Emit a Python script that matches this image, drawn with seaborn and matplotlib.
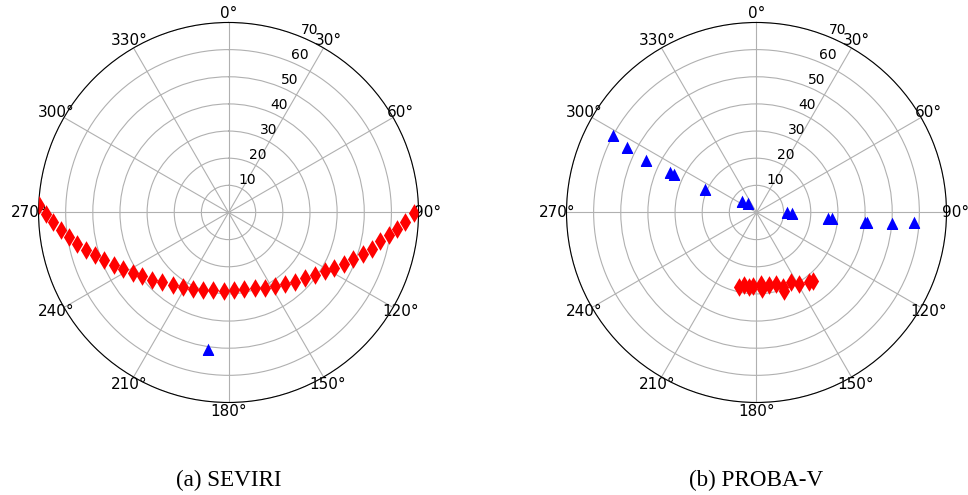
import numpy as np
import pandas as pd
import seaborn as sns
import matplotlib.pyplot as plt

# SEVIRI: azimuth (deg) and zenith (deg)
seviri_red_az = [272.4, 269.6, 266.8, 264.1, 261.2, 258.2, 255.3, 252.5, 249.1, 245.5,
                 241.6, 237.7, 233.6, 228.6, 223.5, 217.6, 211.6, 205.2, 198.5, 191.0,
                 183.4, 176.3, 168.3, 161.0, 154.3, 147.8, 141.6, 136.1, 130.8, 125.9,
                 121.4, 117.9, 113.9, 110.4, 107.2, 104.3, 100.8, 98.0, 95.6, 93.2, 90.1]
seviri_red_zen = [69.8, 67.3, 64.9, 62.2, 59.6, 56.9, 54.3, 51.7, 49.0, 46.5,
                  44.1, 41.6, 39.5, 37.4, 35.4, 33.8, 32.3, 31.0, 30.0, 29.2,
                  28.9, 28.5, 28.7, 29.5, 30.7, 32.0, 33.4, 35.3, 37.2, 39.3,
                  41.7, 44.1, 46.6, 49.1, 51.7, 54.4, 56.9, 59.6, 62.3, 65.2, 68.3]
seviri_blue_az = [188.4]
seviri_blue_zen = [50.9]

# PROBA-V
proba_blue_az = [298.4, 296.8, 295.3, 294.9, 295.0, 294.8, 307.8, 318.0,
                 88.5, 90.3, 94.7, 94.4, 94.9, 94.8, 94.6, 93.4]
proba_blue_zen = [60.3, 53.5, 45.0, 35.3, 33.7, 21.0, 6.9, 4.9,
                  11.2, 13.0, 26.3, 27.9, 40.0, 41.0, 50.2, 58.0]
proba_red_az = [193.1, 189.8, 185.5, 182.5, 176.6, 175.9, 170.4, 164.6,
                160.1, 160.7, 153.5, 149.2, 143.2, 140.5]
proba_red_zen = [28.2, 27.3, 27.6, 27.2, 26.5, 28.1, 27.2, 27.2,
                 29.2, 30.8, 28.6, 30.5, 32.0, 32.7]

captions = ["(a) SEVIRI", "(b) PROBA-V"]

fig = plt.figure(figsize=(9.68, 4.95), dpi=100)
ax1 = fig.add_axes([0.0398, 0.1869, 0.3926, 0.7677], projection="polar")
ax2 = fig.add_axes([0.5852, 0.1869, 0.3926, 0.7677], projection="polar")

panels = [
    (ax1, seviri_red_az, seviri_red_zen, seviri_blue_az, seviri_blue_zen),
    (ax2, proba_red_az, proba_red_zen, proba_blue_az, proba_blue_zen),
]

for ax, raz, rzen, baz, bzen in panels:
    ax.set_theta_zero_location("N")
    ax.set_theta_direction(-1)
    red = pd.DataFrame({"az": np.deg2rad(raz), "zen": rzen})
    blue = pd.DataFrame({"az": np.deg2rad(baz), "zen": bzen})
    sns.scatterplot(data=red, x="az", y="zen", ax=ax, marker="d", color="red",
                    s=90, linewidth=0, zorder=3)
    sns.scatterplot(data=blue, x="az", y="zen", ax=ax, marker="^", color="blue",
                    s=70, linewidth=0, zorder=3)
    ax.set_ylim(0, 70)
    ax.set_yticks([10, 20, 30, 40, 50, 60, 70])
    ax.set_thetagrids(range(0, 360, 30))
    ax.set_rlabel_position(22.5)
    ax.set_xlabel("")
    ax.set_ylabel("")
    ax.grid(True, color="#b0b0b0", linewidth=0.8)
    ax.tick_params(axis="y", labelsize=10)
    ax.tick_params(axis="x", labelsize=11, pad=-4)

fig.text(0.2361, 0.03, captions[0], ha="center", va="center",
         family="Liberation Serif", fontsize=16.7)
fig.text(0.7815, 0.03, captions[1], ha="center", va="center",
         family="Liberation Serif", fontsize=16.7)

fig.savefig("out.png", dpi=100)
